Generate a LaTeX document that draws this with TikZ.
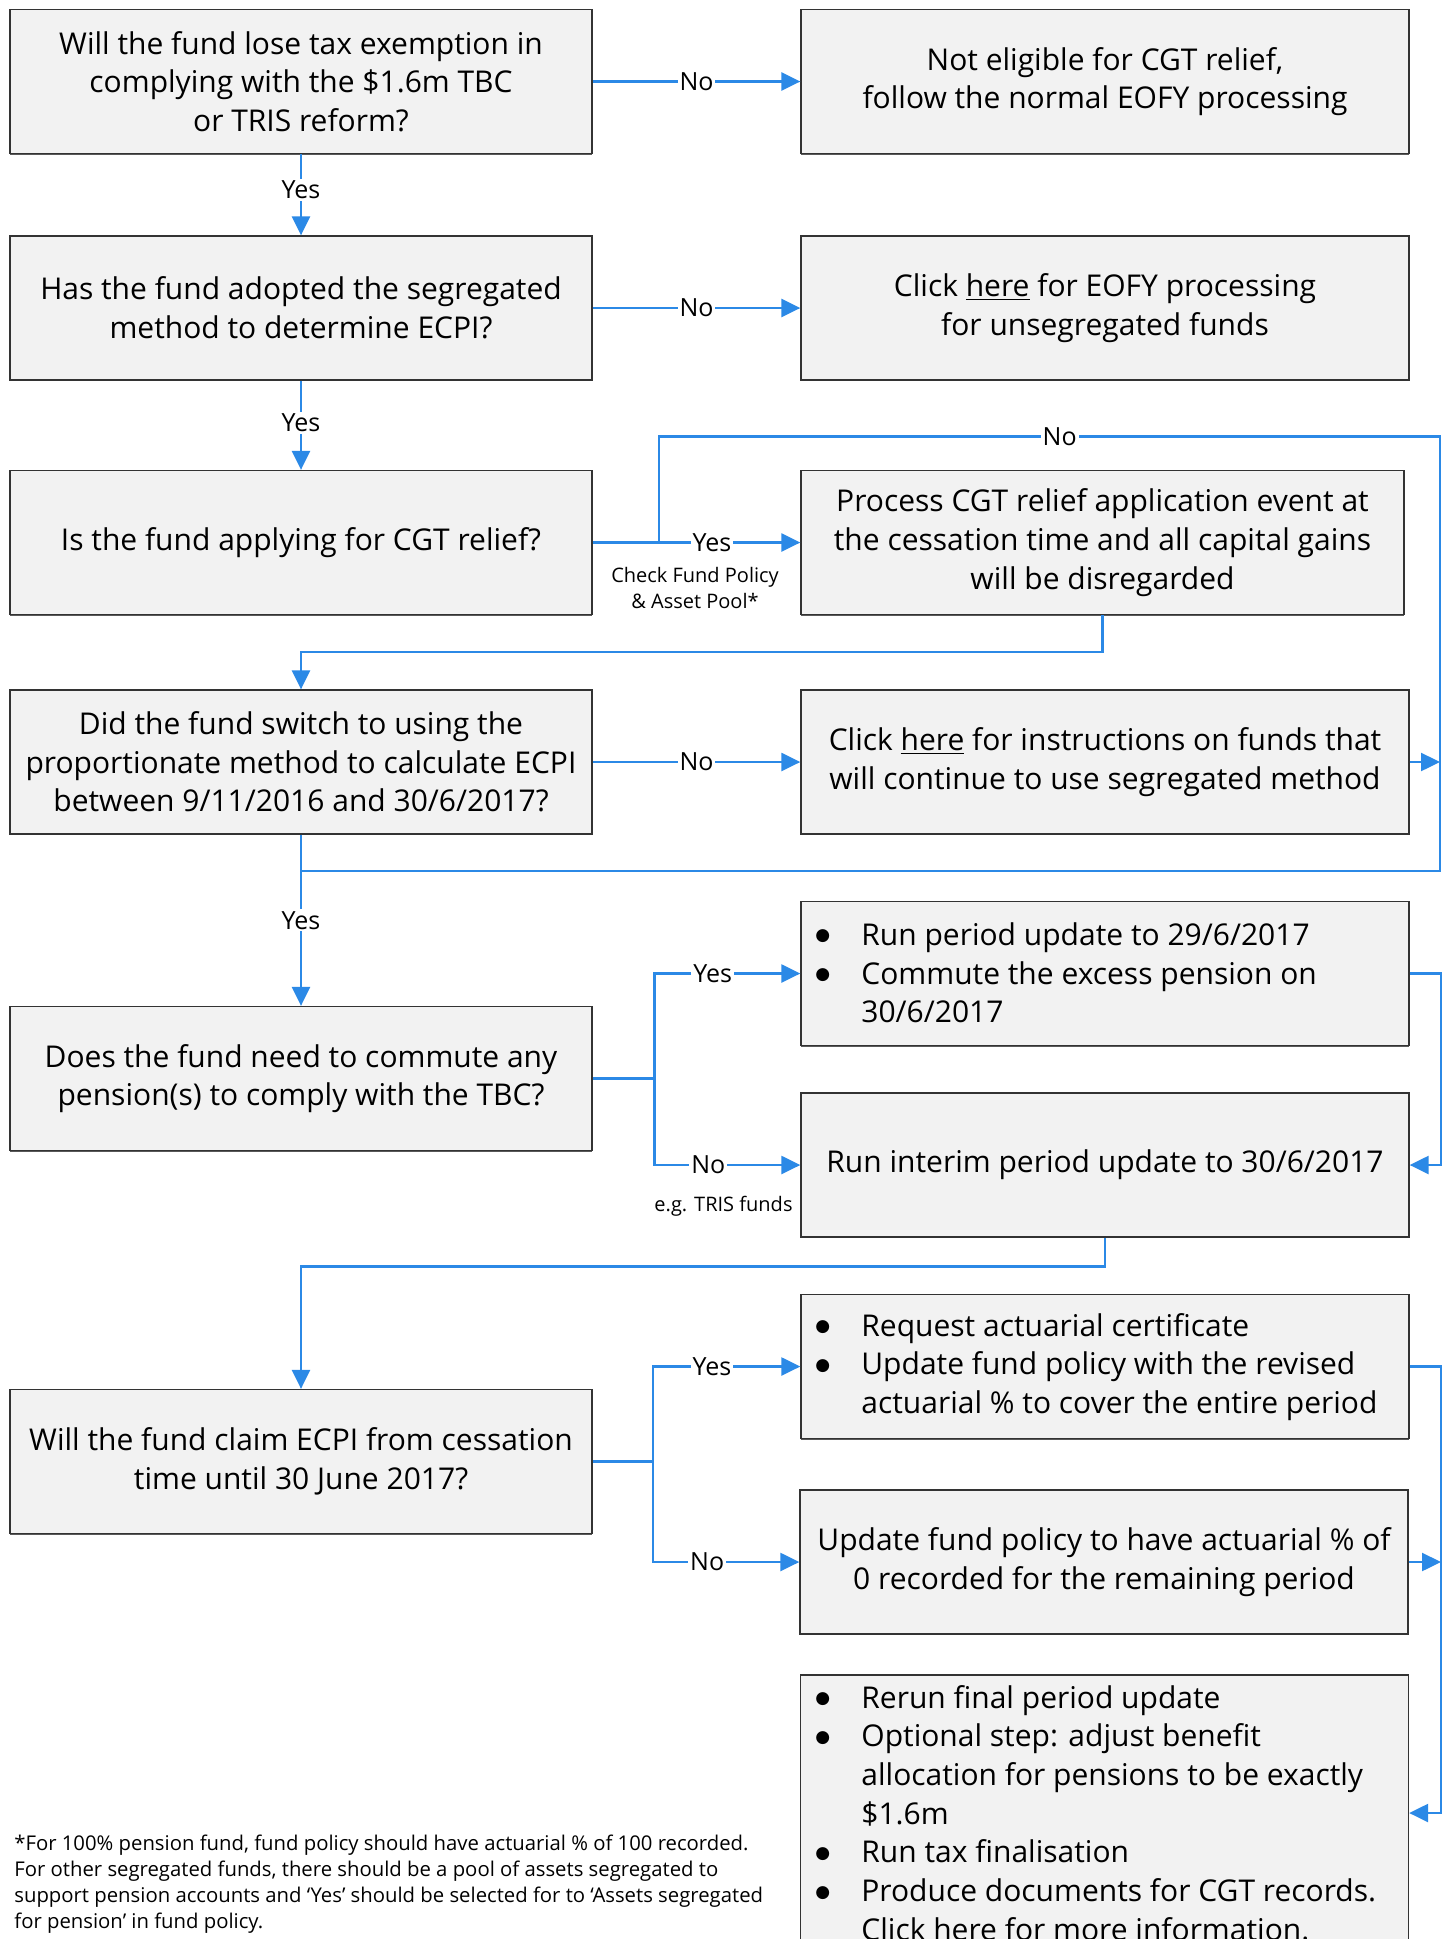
\documentclass[tikz,border=0pt]{standalone}
\usepackage{fontspec}
\setmainfont{Open Sans}
\newfontfamily\bulfont{DejaVu Sans}
\usetikzlibrary{arrows.meta,shadows}
\definecolor{boxfill}{HTML}{F2F2F2}
\definecolor{boxline}{HTML}{333333}
\definecolor{flowblue}{RGB}{43,137,230}
\newcommand\mymain{\fontsize{15}{19.35}\selectfont}
\newcommand\mylbl{\fontsize{12.5}{15}\selectfont}
\newcommand\mysmall{\fontsize{10}{13}\selectfont}
\newcommand\myfoot{\fontsize{10.15}{12.9}\selectfont}
\newcommand\mybul{\makebox[23pt][l]{\raisebox{2.3pt}{\bulfont\fontsize{8.5}{0}\selectfont ●}}}
\newcommand\mycont{\hspace*{23pt}}
\begin{document}
\begin{tikzpicture}[x=0.5pt,y=-0.5pt,
  box/.style={draw=boxline, line width=0.65pt, fill=boxfill, align=center,
    font=\mymain, inner sep=1pt, minimum height=72pt,
    drop shadow={shadow xshift=0pt, shadow yshift=-0.7pt, fill=black!65, opacity=1}},
  lbox/.style={box, minimum width=291pt},
  rbox/.style={box, minimum width=304pt},
  listtxt/.style={align=left, inner sep=0pt, font=\mymain, anchor=west},
  flow/.style={draw=flowblue, line width=1.2pt},
  arr/.style={flow, -{Triangle[length=9.5pt,width=9pt]}},
  lbl/.style={fill=white, inner sep=1pt, font=\mylbl, text=black},
  note/.style={inner sep=0pt, align=center, font=\mysmall}]
\useasboundingbox (0,0) rectangle (1447,1939);
\clip (0,0) rectangle (1447,1939);

% boxes
\node[lbox] (a1) at (301,81.5) {Will the fund lose tax exemption in\\complying with the \$1.6m TBC\\or TRIS reform?};
\node[rbox] (b1) at (1105,81.5) {Not eligible for CGT relief,\\follow the normal EOFY processing};
\node[lbox] (a2) at (301,308) {Has the fund adopted the segregated\\method to determine ECPI?};
\node[rbox] (b2) at (1105,308) {Click \underline{here} for EOFY processing\\for unsegregated funds};
\node[lbox] (a3) at (301,542.5) {Is the fund applying for CGT relief?};
\node[box, minimum width=301.5pt] (b3) at (1102.5,542.5) {Process CGT relief application event at\\the cessation time and all capital gains\\will be disregarded};
\node[lbox] (a4) at (301,762) {Did the fund switch to using the\\proportionate method to calculate ECPI\\between 9/11/2016 and 30/6/2017?};
\node[rbox] (b4) at (1105,762) {Click \underline{here} for instructions on funds that\\will continue to use segregated method};
\node[rbox] (b5) at (1105,973.5) {};
\node[listtxt] (b5t) at (815,973) {\mybul Run period update to 29/6/2017\\\mybul Commute the excess pension on\\\mycont 30/6/2017};
\node[lbox] (a5) at (301,1078.5) {Does the fund need to commute any\\pension(s) to comply with the TBC?};
\node[rbox] (b6) at (1105,1165) {Run interim period update to 30/6/2017};
\node[rbox] (b7) at (1105,1366.5) {};
\node[listtxt] (b7t) at (815,1367) {\mybul Request actuarial certificate\\\mybul Update fund policy with the revised\\\mycont actuarial \% to cover the entire period};
\node[lbox] (a6) at (301,1461.5) {Will the fund claim ECPI from cessation\\time until 30 June 2017?};
\node[rbox] (b8) at (1104,1562) {Update fund policy to have actuarial \% of\\0 recorded for the remaining period};
\node[rbox, minimum height=138pt] (b9) at (1104.5,1813) {};
\node[listtxt] (b9t) at (815,1813) {\mybul Rerun final period update\\\mybul Optional step: adjust benefit\\\mycont allocation for pensions to be exactly\\\mycont \$1.6m\\\mybul Run tax finalisation\\\mybul Produce documents for CGT records.\\\mycont Click here for more information.};

% notes
\node[note] (chk) at (695,588) {Check Fund Policy\\\& Asset Pool*};
\node[note] (tris) at (723.5,1206) {e.g. TRIS funds};
\node[inner sep=0pt, align=left, font=\myfoot, anchor=west] (foot) at (14,1884) {*For 100\% pension fund, fund policy should have actuarial \% of 100 recorded.\\For other segregated funds, there should be a pool of assets segregated to\\support pension accounts and ‘Yes’ should be selected for to ‘Assets segregated\\for pension’ in fund policy.};

% junctions
\coordinate (j3) at (659,542.5);
\coordinate (n1) at (659,436.6);
\coordinate (n2) at (1440,436.6);
\coordinate (n3) at (1440,870.7);
\coordinate (n4) at (301,870.7);
\coordinate (k3) at (1102.5,651.8);
\coordinate (j5) at (654.3,1078.5);
\coordinate (r5) at (1441,973.5);
\coordinate (k6) at (1105,1266.5);
\coordinate (j6) at (653,1461.5);
\coordinate (r7) at (1441,1366.5);

% connectors
\draw[arr] (a1) -- node[lbl]{No} (b1);
\draw[arr] (a1) -- node[lbl,pos=0.44]{Yes} (a2);
\draw[arr] (a2) -- node[lbl]{No} (b2);
\draw[arr] (a2) -- node[lbl,pos=0.47]{Yes} (a3);
\draw[arr] (a3) -- node[lbl,pos=0.574]{Yes} (b3);
\draw[flow] (j3) -- (n1) -- node[lbl,pos=0.513]{No} (n2) -- (n3) -- (n4);
\draw[arr] (b3.south) -- (k3) -| (a4.north);
\draw[arr] (a4) -- node[lbl]{No} (b4);
\draw[arr] (b4.east) -- (n3 |- b4.east);
\draw[arr] (a4) -- node[lbl]{Yes} (a5);
\draw[flow] (a5.east) -- (j5);
\draw[arr] (j5) |- node[lbl,pos=0.7]{Yes} (b5.west);
\draw[arr] (j5) |- node[lbl,pos=0.685]{No} (b6.west);
\draw[arr] (b5.east) -- (r5) |- (b6.east);
\draw[arr] (b6.south) -- (k6) -| (a6.north);
\draw[flow] (a6.east) -- (j6);
\draw[arr] (j6) |- node[lbl,pos=0.7]{Yes} (b7.west);
\draw[arr] (j6) |- node[lbl,pos=0.685]{No} (b8.west);
\draw[arr] (b7.east) -- (r7) |- (b9.east);
\draw[arr] (b8.east) -- (r7 |- b8.east);
\end{tikzpicture}
\end{document}
